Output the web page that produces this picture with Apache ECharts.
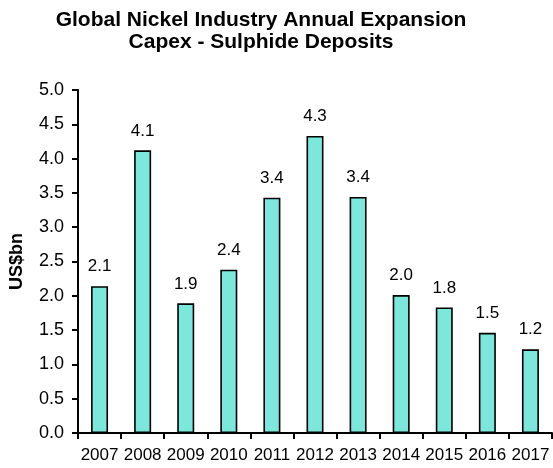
<!DOCTYPE html>
<html>
<head>
<meta charset="utf-8">
<script src="https://cdn.jsdelivr.net/npm/echarts@6/dist/echarts.min.js"></script>
<style>
html,body{margin:0;padding:0;background:#fff;}
#c{width:553px;height:468px;}
</style>
</head>
<body>
<div id="c"></div>
<script>
var titleText = 'Global Nickel Industry Annual Expansion\nCapex - Sulphide Deposits';
var yAxisName = 'US$bn';
var years = ['2007','2008','2009','2010','2011','2012','2013','2014','2015','2016','2017'];
var capex = [2.14, 4.12, 1.89, 2.38, 3.43, 4.33, 3.44, 2.01, 1.83, 1.46, 1.22];
var yMin = 0, yMax = 5, yStep = 0.5;

var font = 'Liberation Sans, Arial, Helvetica, sans-serif';
var chart = echarts.init(document.getElementById('c'), null, {renderer: 'canvas'});
chart.setOption({
  backgroundColor: '#ffffff',
  animation: false,
  title: {
    text: titleText,
    left: 261,
    top: 9,
    padding: 0,
    textAlign: 'center',
    textStyle: {fontFamily: font, fontSize: 21, fontWeight: 'bold', color: '#000', lineHeight: 22}
  },
  grid: {left: 76, right: 1, top: 90, bottom: 35, containLabel: false},
  xAxis: {
    type: 'category',
    data: years,
    boundaryGap: true,
    axisLine: {lineStyle: {color: '#000', width: 2}},
    axisTick: {show: true, alignWithLabel: false, length: 6, lineStyle: {color: '#000', width: 2}},
    axisLabel: {interval: 0, margin: 14, fontFamily: font, fontSize: 17, color: '#000'},
    splitLine: {show: false}
  },
  yAxis: {
    type: 'value',
    min: yMin, max: yMax, interval: yStep,
    name: yAxisName,
    nameLocation: 'middle',
    nameGap: 52,
    nameRotate: 90,
    nameTextStyle: {fontFamily: font, fontSize: 18, fontWeight: 'bold', color: '#000'},
    axisLine: {show: true, lineStyle: {color: '#000', width: 2}},
    axisTick: {show: true, inside: false, length: 6, lineStyle: {color: '#000', width: 2}},
    axisLabel: {margin: 14, fontFamily: font, fontSize: 18, color: '#000', formatter: function (v) { return v.toFixed(1); }},
    splitLine: {show: false}
  },
  series: [{
    type: 'bar',
    data: capex,
    barWidth: 17,
    itemStyle: {color: '#7CE8DC', borderColor: '#000', borderWidth: 1.6},
    label: {
      show: true, position: 'top', distance: 11,
      fontFamily: font, fontSize: 17, color: '#000',
      formatter: function (p) { return p.value.toFixed(1); }
    }
  }]
});
</script>
</body>
</html>
